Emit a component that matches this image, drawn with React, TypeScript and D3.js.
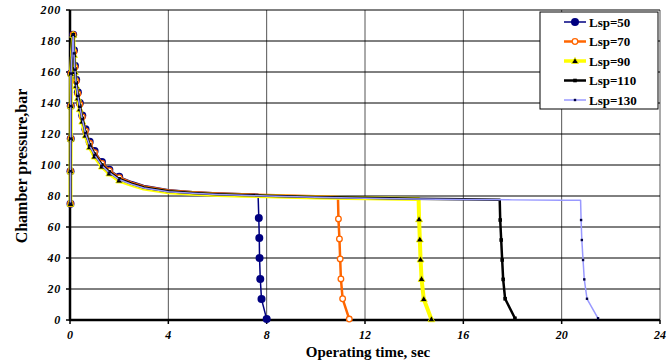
import * as d3 from 'd3';

// shared start-up (ignition) points
const riseTime = [0.02, 0.02, 0.03, 0.03, 0.04, 0.13];
const risePressure = [75, 96, 117, 138, 159, 184];

// shared time grid for the pressure decay after the peak
const decayTime = [0.16, 0.2, 0.25, 0.32, 0.4, 0.5, 0.63, 0.8, 1.0, 1.3, 1.6, 2.0, 2.5, 3.0, 4.0, 5.0, 6.0, 7.0];

const decay50 = [174, 164, 155, 147, 140, 132, 123, 115, 109, 102, 97, 92.5, 89.3, 86.8, 84, 82.8, 82, 81.5];
const decay70 = [173, 163, 154, 146, 139, 131, 122, 114, 108, 101, 96.3, 91.8, 88.6, 86.1, 83.5, 82.4, 81.6, 81.1];
const decay90 = [171, 160, 151, 143, 136, 128, 119, 111.5, 105.5, 99, 94.5, 90, 87.2, 84.8, 82.4, 81.4, 80.7, 80.2];
const decay110 = [172, 162, 153, 145, 138, 130, 121, 113, 107, 100, 95.5, 91, 88, 85.5, 83, 82, 81.2, 80.7];
const decay130 = [172, 161.5, 152.5, 144.5, 137.5, 129.5, 120.5, 112.5, 106.5, 99.6, 95.1, 90.6, 87.6, 85.2, 82.8, 81.8, 81.0, 80.5];

// plateau until burn-out
const tailTime50 = [7.65];
const tailP50 = [81.2];
const tailTime70 = [8, 10, 10.9];
const tailP70 = [80.6, 79.8, 79.3];
const tailTime90 = [8, 10, 12, 14.18];
const tailP90 = [79.8, 79.0, 78.5, 78.0];
const tailTime110 = [8, 10, 12, 14, 16, 17.48];
const tailP110 = [80.2, 79.4, 78.8, 78.3, 77.9, 77.6];
const tailTime130 = [8, 10, 12, 14, 16, 18, 20, 20.77];
const tailP130 = [80.0, 79.2, 78.6, 78.1, 77.8, 77.5, 77.3, 77.3];

// tail-off
const dropTime50 = [7.68, 7.7, 7.71, 7.74, 7.79, 8.0];
const dropP50 = [65.8, 52.9, 40, 26.5, 13.5, 0.6];
const dropTime70 = [10.92, 10.96, 10.99, 11.02, 11.09, 11.36];
const dropP70 = [65.2, 52.3, 39.4, 26.5, 13.7, 0.6];
const dropTime90 = [14.2, 14.23, 14.26, 14.3, 14.39, 14.7];
const dropP90 = [65, 52, 39, 26.5, 13.5, 0.5];
const dropTime110 = [17.5, 17.54, 17.58, 17.62, 17.7, 18.1];
const dropP110 = [64.5, 51.6, 38.7, 26.2, 13.7, 1.1];
const dropTime130 = [20.79, 20.82, 20.87, 20.92, 21.03, 21.48];
const dropP130 = [64.5, 51.6, 38.7, 26.2, 13.7, 1.1];

const xTicks = [0, 4, 8, 12, 16, 20, 24];
const yTicks = [0, 20, 40, 60, 80, 100, 120, 140, 160, 180, 200];

type Pt = { t: number; p: number; mark: boolean };

const build = (decay: number[], tt: number[], tp: number[], dt: number[], dp: number[]): Pt[] => [
  ...riseTime.map((t, i) => ({ t, p: risePressure[i], mark: true })),
  ...decayTime.map((t, i) => ({ t, p: decay[i], mark: t <= 2 })),
  ...tt.map((t, i) => ({ t, p: tp[i], mark: false })),
  ...dt.map((t, i) => ({ t, p: dp[i], mark: true })),
];

const series = [
  { name: 'Lsp=50', color: '#000080', width: 1.5, marker: 'dot', pts: build(decay50, tailTime50, tailP50, dropTime50, dropP50) },
  { name: 'Lsp=70', color: '#FF6600', width: 2.5, marker: 'ring', pts: build(decay70, tailTime70, tailP70, dropTime70, dropP70) },
  { name: 'Lsp=90', color: '#FFFF00', width: 4, marker: 'tri', pts: build(decay90, tailTime90, tailP90, dropTime90, dropP90) },
  { name: 'Lsp=110', color: '#000000', width: 2.5, marker: 'sq', pts: build(decay110, tailTime110, tailP110, dropTime110, dropP110) },
  { name: 'Lsp=130', color: '#9999FF', width: 1.5, marker: 'small', pts: build(decay130, tailTime130, tailP130, dropTime130, dropP130) },
];

const font = '"Liberation Serif", "Times New Roman", serif';

const Marker = ({ kind, x, y }: { kind: string; x: number; y: number }) => {
  if (kind === 'dot') return <circle cx={x} cy={y} r={4} fill="#000080" />;
  if (kind === 'ring') return <circle cx={x} cy={y} r={2.8} fill="#fff" stroke="#FF6600" strokeWidth={1.3} />;
  if (kind === 'tri')
    return <path d={`M${x},${y - 3.5}L${x + 3.5},${y + 2.5}L${x - 3.5},${y + 2.5}Z`} fill="#000" stroke="#FFFF00" strokeWidth={0.8} />;
  if (kind === 'sq') return <rect x={x - 1.8} y={y - 1.8} width={3.6} height={3.6} fill="#000" />;
  return <rect x={x - 1.2} y={y - 1.2} width={2.4} height={2.4} fill="#000040" />;
};

export default function App() {
  const x = d3.scaleLinear().domain([0, 24]).range([70, 660]);
  const y = d3.scaleLinear().domain([0, 200]).range([320, 10]);
  const line = d3.line<Pt>().x(d => x(d.t)).y(d => y(d.p));

  return (
    <svg width={672} height={360} style={{ position: 'absolute', left: 0, top: 0, background: '#fff' }} fontFamily={font}>
      {/* grid */}
      {xTicks.slice(1).map(t => (
        <line key={'vx' + t} x1={x(t)} x2={x(t)} y1={y(200)} y2={y(0)} stroke="#555" strokeWidth={1} />
      ))}
      {yTicks.slice(1).map(v => (
        <line key={'hy' + v} x1={x(0)} x2={x(24)} y1={y(v)} y2={y(v)} stroke="#000" strokeWidth={1} />
      ))}
      {/* axes */}
      <line x1={x(0)} x2={x(0)} y1={y(200)} y2={y(0) + 1} stroke="#000" strokeWidth={2.5} />
      <line x1={x(0)} x2={x(24)} y1={y(0)} y2={y(0)} stroke="#000" strokeWidth={2.5} />
      {yTicks.map(v => (
        <g key={'yt' + v}>
          <line x1={x(0) - 4} x2={x(0)} y1={y(v)} y2={y(v)} stroke="#000" strokeWidth={1.5} />
          <text x={x(0) - 9} y={y(v) + 4} textAnchor="end" fontSize={12} fontWeight="bold" fontStyle="italic" letterSpacing={0.8}>
            {v}
          </text>
        </g>
      ))}
      {xTicks.map(t => (
        <g key={'xt' + t}>
          <line x1={x(t)} x2={x(t)} y1={y(0)} y2={y(0) + 4} stroke="#000" strokeWidth={1.5} />
          <text x={x(t)} y={339} textAnchor="middle" fontSize={12} fontWeight="bold" fontStyle="italic">
            {t}
          </text>
        </g>
      ))}
      <text x={368} y={357} textAnchor="middle" fontSize={15} fontWeight="bold">
        Operating time, sec
      </text>
      <text transform={`translate(27,166) rotate(-90)`} textAnchor="middle" fontSize={16} fontWeight="bold">
        Chamber pressure,bar
      </text>
      {/* series */}
      {series.map(s => (
        <g key={s.name}>
          <path d={line(s.pts) ?? ''} fill="none" stroke={s.color} strokeWidth={s.width} strokeLinejoin="round" />
          {s.pts.filter(d => d.mark).map((d, i) => (
            <Marker key={i} kind={s.marker} x={x(d.t)} y={y(d.p)} />
          ))}
        </g>
      ))}
      {/* legend */}
      <rect x={540} y={12} width={118} height={97} fill="#fff" stroke="#000" strokeWidth={1} />
      {series.map((s, i) => {
        const ly = 22 + i * 19.5;
        return (
          <g key={'lg' + s.name}>
            <line x1={564} x2={586} y1={ly} y2={ly} stroke={s.color} strokeWidth={s.width === 4 ? 3.5 : s.width} />
            <Marker kind={s.marker} x={575} y={ly} />
            <text x={589} y={ly + 4.5} fontSize={13} fontWeight="bold">
              {s.name}
            </text>
          </g>
        );
      })}
    </svg>
  );
}
